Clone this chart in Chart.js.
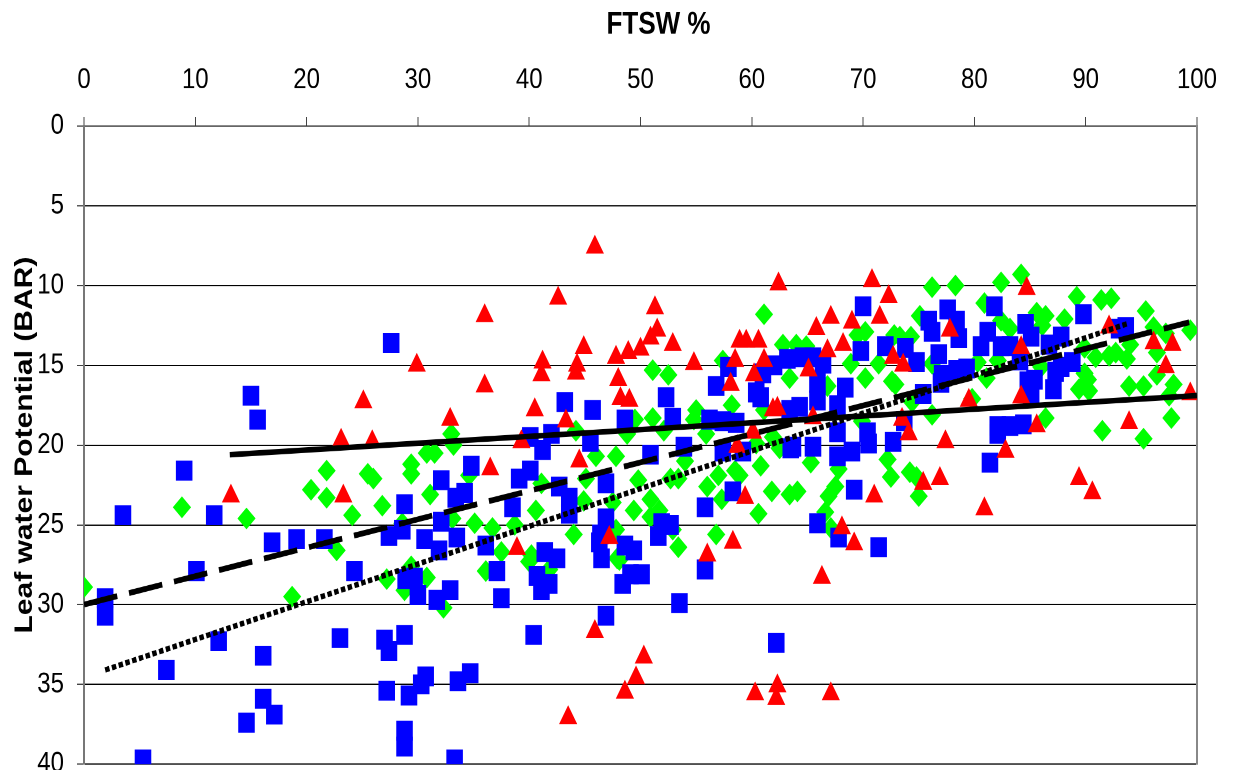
<!DOCTYPE html>
<html>
<head>
<meta charset="utf-8">
<script src="https://cdn.jsdelivr.net/npm/chart.js@4.4.1/dist/chart.umd.min.js"></script>
<style>
  html, body { margin: 0; padding: 0; background: #fff; }
  #wrap { width: 1233px; height: 770px; overflow: hidden; }
</style>
</head>
<body>
<div id="wrap">
  <!-- the source picture is stretched 1.2x vertically, so the canvas is too -->
  <canvas id="ftswChart" width="1233" height="664" style="width:1233px;height:797px"></canvas>
</div>
<script>
// FTSW % (x) vs leaf water potential in BAR (y)
const blueSquares = [
  [27.6,13.6],[15.0,16.9],[15.6,18.4],[9.0,21.6],[3.5,24.4],[11.7,24.4],[16.9,26.1],[19.1,25.9],
  [21.6,25.9],[10.1,27.9],[1.9,29.6],[1.9,30.7],[24.3,27.9],[28.8,23.7],[27.4,25.7],[28.6,25.3],
  [30.6,25.9],[32.1,22.2],[33.4,23.3],[34.2,23.0],[34.8,21.3],[32.1,24.8],[33.5,25.8],[31.9,26.6],
  [28.9,28.4],[29.7,28.3],[30.0,29.4],[31.7,29.7],[32.9,29.1],[12.1,32.3],[7.4,34.1],[16.1,33.2],
  [23.0,32.1],[27.0,32.2],[27.4,32.9],[28.8,31.9],[16.1,35.9],[17.1,36.9],[14.6,37.4],[27.2,35.4],
  [29.2,35.7],[30.3,35.0],[30.7,34.5],[33.6,34.8],[34.7,34.3],[28.8,37.9],[28.8,38.9],[5.3,39.7],
  [33.3,39.7],
  [43.2,17.3],[45.7,17.8],[52.3,17.0],[56.8,16.3],[57.9,15.1],[60.4,16.7],[60.8,17.0],[61.0,15.5],
  [62.0,15.0],[63.2,14.6],[48.6,18.4],[52.9,18.3],[56.2,18.4],[57.4,18.5],[58.6,18.6],[40.1,19.5],
  [42.0,19.3],[41.2,20.3],[45.5,19.8],[50.9,20.6],[53.9,20.1],[57.4,20.4],[59.2,20.4],[63.5,20.2],
  [40.1,21.6],[39.1,22.1],[42.7,22.6],[46.9,22.4],[43.6,23.3],[38.5,23.9],[43.6,24.3],[46.9,24.6],
  [55.8,23.9],[58.3,22.9],[46.4,25.6],[46.3,26.1],[51.6,25.7],[52.7,25.0],[51.9,24.9],[48.6,26.3],
  [49.4,26.6],[36.1,26.3],[41.4,26.7],[42.5,27.1],[46.5,27.1],[37.1,27.9],[40.7,28.2],[41.8,28.7],
  [41.1,29.1],[49.1,28.1],[50.1,28.1],[48.4,28.7],[55.8,27.8],[37.5,29.6],[53.5,29.9],[46.9,30.7],
  [40.4,31.9],[62.2,32.4],
  [70.0,11.3],[75.9,12.2],[76.2,12.9],[77.6,11.5],[78.4,12.2],[78.6,13.3],[81.8,11.3],[80.6,13.8],
  [81.2,12.9],[69.8,14.1],[72.0,13.8],[73.8,13.9],[74.8,14.8],[76.8,14.3],[77.1,15.6],[78.4,15.3],
  [79.3,15.2],[64.6,14.5],[65.5,14.5],[66.4,14.9],[65.9,16.1],[68.4,16.4],[65.9,17.2],[64.3,17.6],
  [63.4,17.8],[67.7,17.5],[67.7,19.2],[63.7,20.1],[65.5,20.1],[67.7,20.7],[69.0,20.4],[70.4,19.2],
  [70.5,19.9],[72.7,19.8],[73.7,18.5],[75.4,16.8],[77.0,16.1],[82.1,19.3],[81.4,21.1],[69.2,22.8],
  [65.9,24.9],[67.8,25.8],[71.4,26.4],
  [89.8,11.8],[84.6,12.4],[93.6,12.6],[93.0,12.7],[85.1,13.2],[87.8,13.2],[82.4,13.8],[83.2,13.8],
  [86.7,13.7],[84.1,14.7],[88.8,14.8],[87.8,15.1],[87.3,15.4],[84.8,16.0],[85.4,15.9],[85.1,16.8],
  [87.1,16.5],[82.1,18.8],[83.2,18.8],[84.4,18.7]
];

const redTriangles = [
  [29.9,15.0],[25.1,17.3],[32.9,18.4],[23.1,19.7],[25.9,19.8],[13.2,23.2],[23.3,23.2],
  [45.9,7.6],[62.4,9.9],[42.6,10.8],[36.0,11.9],[51.3,11.4],[51.5,12.8],[50.9,13.3],[52.9,13.7],
  [44.9,13.9],[48.9,14.2],[50.0,14.0],[47.8,14.5],[41.2,14.8],[41.1,15.6],[44.3,15.0],[44.2,15.5],
  [48.0,15.9],[54.8,14.9],[58.9,13.5],[59.5,13.5],[60.6,13.5],[58.5,14.7],[61.1,14.7],[60.2,15.6],
  [58.1,16.2],[36.0,16.3],[48.2,17.1],[49.0,17.2],[40.5,17.8],[43.3,18.5],[61.9,17.8],[62.3,17.7],
  [39.3,19.8],[36.5,21.5],[44.5,21.0],[58.7,20.1],[60.1,19.2],[59.4,23.3],[38.9,26.5],[47.2,25.8],
  [56.0,26.9],[58.3,26.1],[45.9,31.7],[50.3,33.3],[49.6,34.6],[48.6,35.5],[60.3,35.6],[62.3,35.1],
  [62.2,35.9],[43.5,37.1],
  [70.8,9.7],[72.3,10.7],[67.1,12.0],[65.8,12.7],[69.0,12.3],[71.5,12.0],[68.2,13.7],[66.8,14.1],
  [65.1,15.3],[72.7,14.5],[73.6,15.0],[77.8,12.8],[65.5,18.3],[73.5,18.4],[74.1,19.3],[79.5,17.2],
  [77.4,19.8],[76.9,22.1],[75.4,22.4],[71.0,23.2],[80.9,24.0],[68.1,25.2],[69.2,26.2],
  [84.7,10.2],[92.1,12.6],[84.2,13.9],[96.1,13.6],[97.8,13.7],[97.2,15.1],[99.4,16.8],[84.2,17.0],
  [85.6,18.8],[93.9,18.6],[82.8,20.4],[89.4,22.1],[90.6,23.0],[66.3,28.3],[67.1,35.6]
];

const greenDiamonds = [
  [0.0,28.9],[8.8,23.9],[14.6,24.6],[20.4,22.8],[21.8,21.6],[21.8,23.3],[24.1,24.4],[25.5,21.8],
  [26.0,22.1],[26.8,23.8],[22.7,26.6],[18.7,29.5],[29.4,21.2],[29.4,21.8],[30.8,20.5],[31.5,20.5],
  [33.0,19.3],[33.2,20.0],[31.1,23.1],[33.1,24.6],[35.1,24.9],[34.6,21.9],[27.2,28.4],[28.8,29.1],
  [30.8,28.3],[29.4,27.6],[32.3,30.2],[28.6,24.9],
  [61.1,11.8],[62.8,13.7],[51.1,15.3],[52.5,15.6],[57.4,14.7],[63.4,15.8],[58.2,17.5],[55.0,17.8],
  [54.8,18.4],[51.1,18.3],[49.5,18.4],[52.1,19.1],[48.8,19.3],[44.2,19.1],[55.9,19.3],[61.1,17.8],
  [60.4,19.9],[62.5,20.2],[61.9,19.5],[46.0,20.7],[47.8,20.7],[54.0,21.0],[60.8,21.3],[57.0,21.9],
  [58.5,21.6],[58.9,21.9],[41.1,22.4],[45.1,22.1],[49.8,22.2],[52.7,22.1],[53.4,22.1],[56.0,22.6],
  [61.8,22.9],[63.4,23.1],[57.3,23.4],[47.5,23.6],[44.9,23.5],[50.9,23.4],[40.6,24.1],[49.4,24.1],
  [51.7,24.1],[50.9,24.5],[60.6,24.3],[36.7,25.2],[38.7,25.0],[47.8,25.3],[44.0,25.6],[52.9,25.3],
  [56.8,25.6],[53.4,26.4],[37.5,26.7],[40.0,27.3],[41.8,27.8],[48.1,27.2],[36.1,27.9],
  [47.9,27.1],[40.2,26.9],
  [76.2,10.1],[78.3,10.0],[82.4,9.8],[80.9,11.1],[75.1,11.9],[70.2,12.9],[69.5,13.1],[72.8,13.1],
  [73.3,13.2],[74.3,13.2],[64.0,13.7],[64.9,13.8],[68.9,14.9],[71.4,14.9],[76.2,14.9],[80.3,14.8],
  [81.1,15.8],[70.2,15.8],[72.6,16.0],[72.9,16.2],[66.8,16.3],[74.4,17.3],[76.2,18.1],[79.8,17.1],
  [69.9,18.5],[65.3,21.1],[67.8,21.5],[72.2,20.9],[72.5,22.0],[74.2,21.7],[74.8,22.0],[75.0,23.2],
  [67.5,22.6],[66.9,23.2],[64.1,22.9],[66.6,24.2],[67.1,25.2],
  [84.2,9.3],[89.2,10.7],[91.4,10.9],[92.3,10.8],[95.4,11.6],[85.6,11.7],[86.4,11.9],[88.1,12.1],
  [82.4,12.2],[83.2,12.7],[86.1,12.5],[96.1,12.6],[99.4,12.8],[97.2,13.0],[89.9,13.9],[94.0,13.7],
  [90.9,14.5],[92.1,14.4],[92.7,14.2],[93.7,14.6],[96.4,14.2],[82.1,14.7],[86.0,15.1],[89.9,15.5],
  [90.2,15.9],[89.4,16.5],[90.3,16.6],[93.9,16.3],[95.2,16.3],[96.4,15.6],[97.9,16.2],[97.5,16.9],
  [86.4,18.3],[91.5,19.1],[97.7,18.3],[95.2,19.6]
];

// trend lines, start and end points
const solidTrend = [[13.1,20.6],[100,16.9]];
const dashedTrend = [[0,30.0],[99.3,12.3]];
const dottedTrend = [[1.9,34.1],[93.7,12.4]];

const xTicks = [0, 10, 20, 30, 40, 50, 60, 70, 80, 90, 100];
const yTicks = [0, 5, 10, 15, 20, 25, 30, 35, 40];

function toPoints(pairs) {
  return pairs.map(function (p) { return { x: p[0], y: p[1] }; });
}

document.addEventListener('DOMContentLoaded', function () {
  Chart.defaults.font.family = '"Liberation Sans", Arial, sans-serif';
  Chart.defaults.color = '#000';

  let ctx = document.getElementById('ftswChart').getContext('2d');

  let trend = function (pairs, dash, width) {
    return {
      data: toPoints(pairs),
      showLine: true,
      borderColor: '#000',
      borderWidth: width,
      borderDash: dash,
      borderCapStyle: 'butt',
      pointRadius: 0,
      yAxisID: 'y',
      order: 0
    };
  };

  let chart = new Chart(ctx, {
    type: 'scatter',
    data: {
      datasets: [
        {
          data: toPoints(redTriangles),
          pointStyle: 'triangle',
          pointRadius: 9.5,
          backgroundColor: '#ff0000',
          borderColor: '#ff0000',
          borderWidth: 1,
          yAxisID: 'y',
          order: 1
        },
        {
          data: toPoints(blueSquares),
          pointStyle: 'rect',
          pointRadius: 11,
          backgroundColor: '#0000ff',
          borderColor: '#0000ff',
          borderWidth: 1,
          yAxisID: 'y',
          order: 2
        },
        {
          data: toPoints(greenDiamonds),
          pointStyle: 'rectRot',
          pointRadius: 8.4,
          backgroundColor: '#00ff00',
          borderColor: '#00ff00',
          borderWidth: 1,
          yAxisID: 'y',
          order: 3
        },
        trend(solidTrend, [], 4.6),
        trend(dashedTrend, [34, 12], 4.8),
        trend(dottedTrend, [4.5, 2.5], 4.6)
      ]
    },
    options: {
      responsive: false,
      devicePixelRatio: 2,
      animation: false,
      layout: { padding: 0 },
      plugins: {
        legend: { display: false },
        tooltip: { enabled: false }
      },
      scales: {
        x: {
          type: 'linear',
          position: 'top',
          min: 0,
          max: 100,
          afterBuildTicks: function (s) {
            s.ticks = xTicks.map(function (v) { return { value: v }; });
          },
          ticks: { font: { size: 24 }, padding: 16 },
          grid: { drawOnChartArea: false, tickLength: 7.5, tickColor: '#444' },
          border: { color: '#333', width: 1 },
          title: {
            display: true,
            // leading spaces nudge the title right, as in the source
            text: '\u00a0\u00a0\u00a0\u00a0\u00a0FTSW %',
            font: { size: 26, weight: 'bold' },
            padding: { top: 5, bottom: 0 }
          },
          afterFit: function (s) { s.height = 105; }
        },
        y: {
          type: 'linear',
          position: 'left',
          min: 0,
          max: 40,
          reverse: true,
          afterBuildTicks: function (s) {
            s.ticks = yTicks.map(function (v) { return { value: v }; });
          },
          ticks: { font: { size: 24 }, padding: 13 },
          grid: { color: '#000', lineWidth: 1, tickLength: 7, tickColor: '#444' },
          border: { color: '#777', width: 2 },
          title: {
            display: true,
            text: 'Leaf water Potential (BAR)',
            font: { size: 25, weight: 'bold' },
            padding: { top: 10, bottom: 0 }
          },
          afterFit: function (s) { s.width = 84; }
        },
        y2: {
          type: 'linear',
          position: 'right',
          min: 0,
          max: 40,
          ticks: { display: false },
          grid: { display: false },
          border: { color: '#888', width: 2 },
          afterFit: function (s) { s.width = 32; }
        }
      }
    }
  });
});
</script>
</body>
</html>
